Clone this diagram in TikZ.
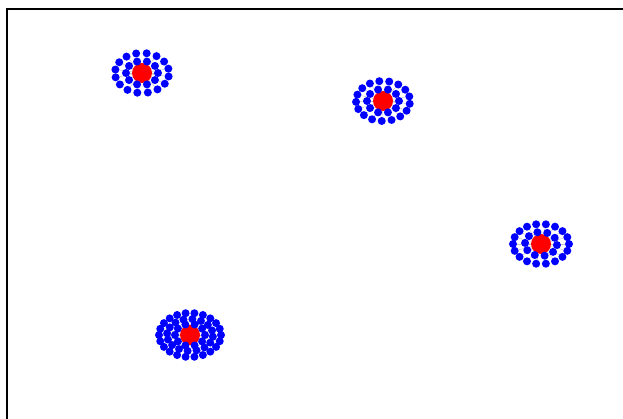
\documentclass[tikz,border=0pt]{standalone}
\usetikzlibrary{positioning,backgrounds}

% one star: hub node #1 at (#2,#3), leaves on elliptic rings #4
\newcommand{\starcluster}[4]{%
  \begin{scope}[shift={(#2,#3)}]
    \node[hub] (#1) at (0,0) {};
    \foreach \r/\n/\rx/\ry/\off in {#4} {
      \foreach \k in {1,...,\n} {
        \node[leaf] (#1-\r-\k) at ({\rx*cos(360*\k/\n+\off)},{\ry*sin(360*\k/\n+\off)}) {};
        \begin{pgfonlayer}{background}
          \draw[spoke] (#1) -- (#1-\r-\k);
        \end{pgfonlayer}
      }
    }
  \end{scope}
}

\begin{document}
\begin{tikzpicture}[
  x=1pt, y=-1pt,
  leaf/.style={circle, fill=blue, inner sep=0pt, minimum size=8pt},
  hub/.style={circle, fill=red, inner sep=0pt, minimum size=20pt},
  spoke/.style={draw=gray!45, line width=0.5pt}
]
\useasboundingbox (0,0) rectangle (623,419);
\draw[line width=2pt] (7,419) -- (7,9) -- (623,9);

\starcluster{sa}{142}{73}{i/10/16/12/0, o/16/27/20/10}
\starcluster{sb}{383}{101}{i/10/16/12/0, o/17/27/20/8}
\starcluster{sc}{541}{244}{i/10/16/12/5, o/18/28/20/0}
\starcluster{sd}{190}{335}{i/10/15/11/0, m/16/23/16/6, o/22/31/22/0}
\end{tikzpicture}
\end{document}
